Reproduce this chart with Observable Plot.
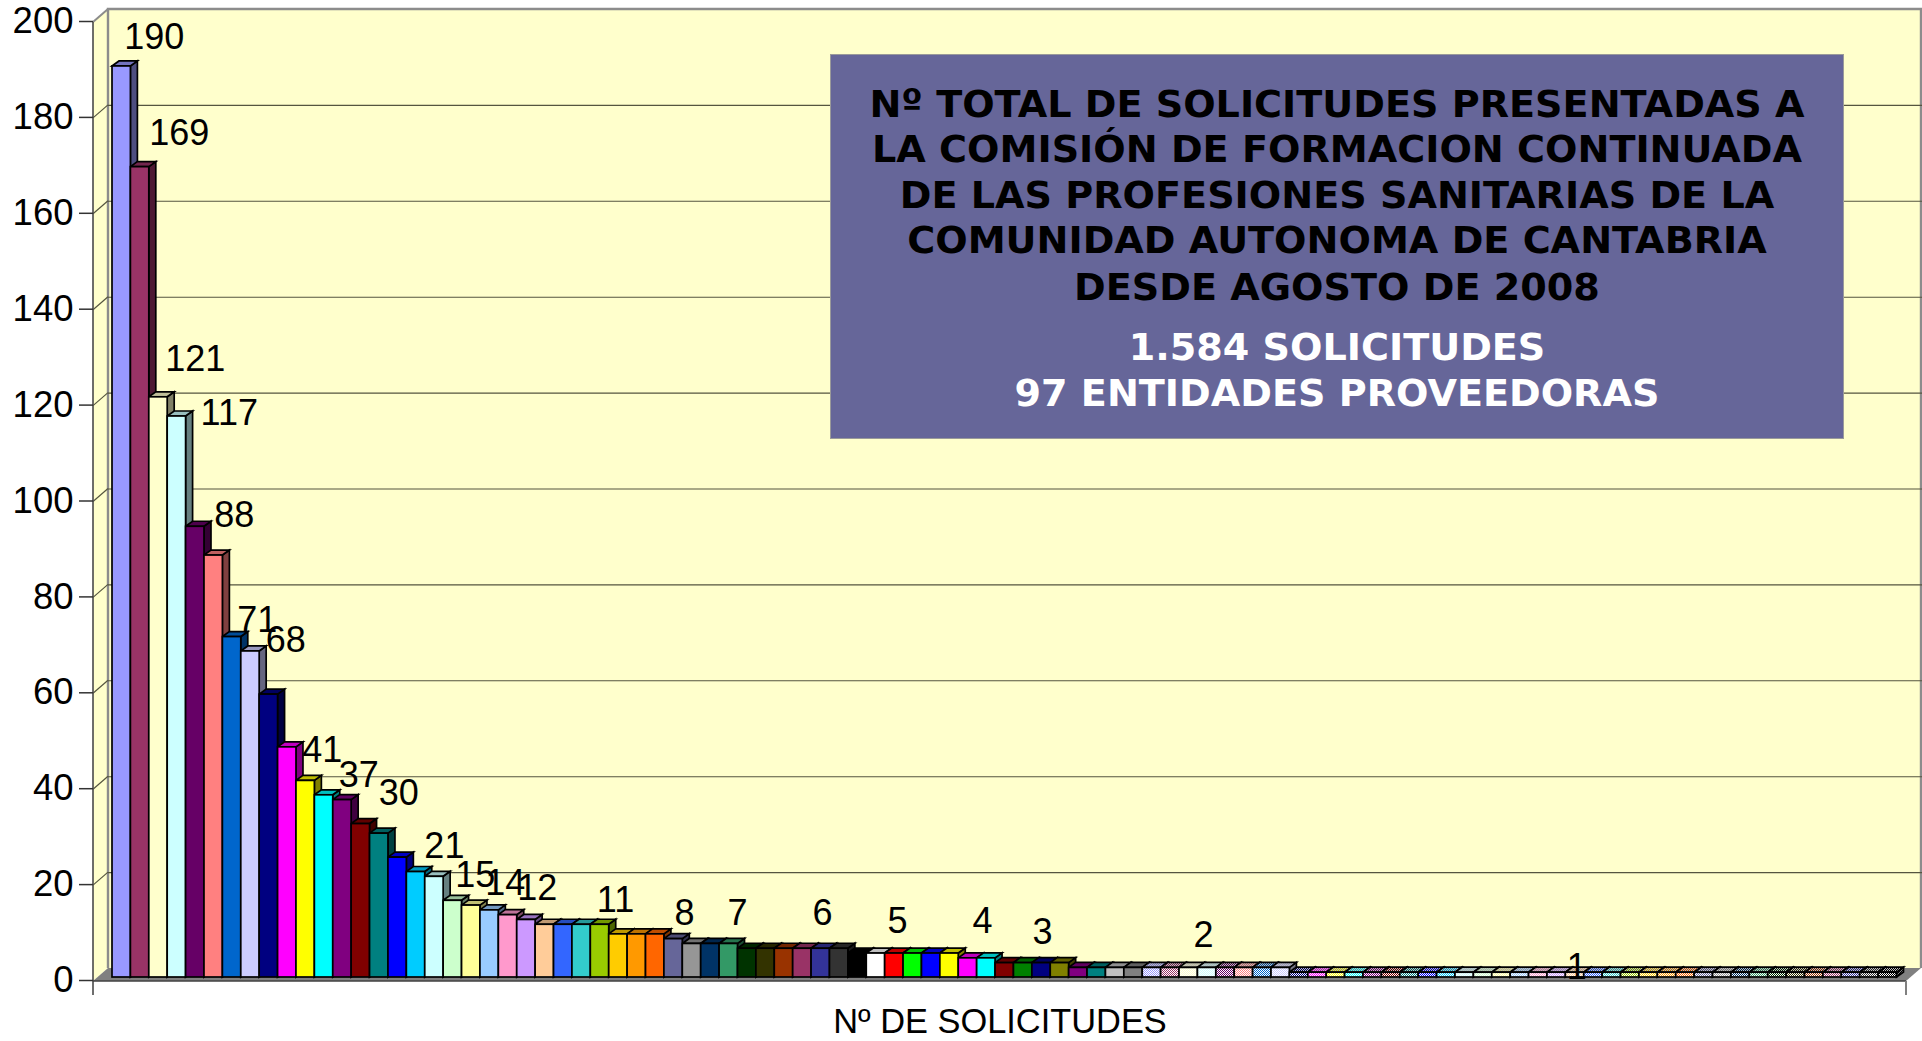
<!DOCTYPE html>
<html lang="es">
<head>
<meta charset="utf-8">
<title>Solicitudes</title>
<script src="https://cdn.jsdelivr.net/npm/d3@7"></script>
<script src="https://cdn.jsdelivr.net/npm/@observablehq/plot@0.6"></script>
<style>
  html, body { margin: 0; padding: 0; background: #fff; overflow: hidden; }
  #chart { position: relative; width: 1922px; height: 1041px; }
  #chart svg { display: block; }
  #box {
    position: absolute; left: 830px; top: 54px; width: 1012px; height: 383px;
    background: #666699; border: 1px solid #9a9a9a; box-sizing: content-box;
    font: bold 38.15px "DejaVu Sans", sans-serif; text-align: center; color: #000;
  }
  #box div { position: absolute; left: 0; right: 0; line-height: 46px; white-space: nowrap; }
  #box .w { color: #fff; }
</style>
</head>
<body>
<div id="chart"></div>
<script>
// ---- data ----
const values = [190,169,121,117,94,88,71,68,59,48,41,38,37,32,30,25,22,21,16,15,14,13,12,11,11,11,11,9,9,9,8,7,7,7,6,6,6,6,6,6,5,5,5,5,5,5,4,4,3,3,3,3,2,2,2,2,2,2,2,2,2,2,2,2,1,1,1,1,1,1,1,1,1,1,1,1,1,1,1,1,1,1,1,1,1,1,1,1,1,1,1,1,1,1,1,1,1];
const solidPalette = ["#9999FF","#993366","#FFFFCC","#CCFFFF","#660066","#FF8080","#0066CC","#CCCCFF","#000080","#FF00FF","#FFFF00","#00FFFF","#800080","#800000","#008080","#0000FF","#00CCFF","#CCFFFF","#CCFFCC","#FFFF99","#99CCFF","#FF99CC","#CC99FF","#FFCC99","#3366FF","#33CCCC","#99CC00","#FFCC00","#FF9900","#FF6600","#666699","#969696","#003366","#339966","#003300","#333300","#993300","#993366","#333399","#333333","#000000","#FFFFFF","#FF0000","#00FF00","#0000FF","#FFFF00","#FF00FF","#00FFFF","#800000","#008000","#000080","#808000","#800080","#008080","#C0C0C0","#808080"];
const yTicks = [0,20,40,60,80,100,120,140,160,180,200];
const labelTexts = ["190","169","121","117","88","71","68","41","37","30","21","15","14","12","11","8","7","6","5","4","3","2","1"];
const titleLines = ["Nº TOTAL DE SOLICITUDES PRESENTADAS A","LA COMISIÓN DE FORMACION CONTINUADA","DE LAS PROFESIONES SANITARIAS DE LA","COMUNIDAD AUTONOMA DE CANTABRIA","DESDE AGOSTO DE 2008"];
const totalLines = ["1.584 SOLICITUDES","97 ENTIDADES PROVEEDORAS"];
const xAxisTitle = "Nº DE SOLICITUDES";

// ---- layout and derived tables ----
const W = 1922, H = 1041;
const barDX = 7, barDY = -5;           // depth of one bar
const wallDY = -9;                     // back wall relative to bars' plane
const frontDX = -19, frontDY = 4;      // front plane relative to bars' plane
const FONT = '"Liberation Sans", Arial, sans-serif';

const rows = values.map((value, i) => ({
  value, start: i, end: i + 1,
  color: solidPalette[i < solidPalette.length ? i : i - solidPalette.length],
  patterned: i >= solidPalette.length, i
}));
const shade = (c, k) => { const r = d3.rgb(c); return d3.rgb(r.r * k, r.g * k, r.b * k).formatHex(); };
const paint = (d, k) => d.patterned ? `url(#p${d.i}-${Math.round(k * 100)})` : shade(d.color, k);

// label placement, in the units of the two scales
const labelPlaces = [[2.27,196],[3.63,176],[4.5,128.9],[6.35,117.6],[6.62,96.3],[7.87,74.4],[9.42,70.3],[11.4,47.3],[13.39,42.1],[15.56,38.4],[18.04,27.3],[19.72,21.3],[21.35,19.6],[23.09,18.6],[27.34,16.1],[31.09,13.3],[33.97,13.3],[38.59,13.3],[42.67,11.7],[47.29,11.7],[50.55,9.4],[59.31,8.8],[79.59,2.1]];
const labels = labelTexts.map((t, i) => ({ t, x: labelPlaces[i][0], y: labelPlaces[i][1] }));

const svgEl = (name) => document.createElementNS("http://www.w3.org/2000/svg", name);
function addPath(g, d, fill, stroke, sw) {
  const p = svgEl("path");
  p.setAttribute("d", d);
  p.setAttribute("fill", fill);
  p.setAttribute("stroke", stroke);
  p.setAttribute("stroke-width", sw);
  p.setAttribute("stroke-linejoin", "miter");
  g.appendChild(p);
}

// chequered fills for the bars past the first palette cycle
function patternDefs() {
  const defs = svgEl("defs");
  for (const d of rows.filter(r => r.patterned)) for (const k of [1, 0.75, 0.5]) {
    const p = svgEl("pattern");
    p.setAttribute("id", `p${d.i}-${Math.round(k * 100)}`);
    p.setAttribute("patternUnits", "userSpaceOnUse");
    p.setAttribute("width", 2); p.setAttribute("height", 2);
    const bg = svgEl("rect");
    bg.setAttribute("width", 2); bg.setAttribute("height", 2);
    bg.setAttribute("fill", shade("#ffffff", k));
    p.appendChild(bg);
    for (const [x, y] of [[0,0],[1,1]]) {
      const c = svgEl("rect");
      c.setAttribute("x", x); c.setAttribute("y", y);
      c.setAttribute("width", 1); c.setAttribute("height", 1);
      c.setAttribute("fill", shade(d.color, k));
      p.appendChild(c);
    }
    defs.appendChild(p);
  }
  return defs;
}

// walls and floor of the 3-D box, anchored on the scales
function walls(index, { x, y }) {
  const g = svgEl("g");
  const L = x(0), R = x(97), B = y(0), T = y(200);
  const fl = L + frontDX, fr = R + 9.5, fb = B + frontDY, ft = T + frontDY;
  const bl = fl + 15, br = fr + 15, bb = B + wallDY, bt = T + wallDY;
  addPath(g, `M${bl},${bt}H${br}V${bb}H${bl}Z`, "#FFFFCC", "none", 0);
  addPath(g, `M${fl},${ft}L${bl},${bt}V${bb}L${fl},${fb}Z`, "#FFFFCC", "none", 0);
  addPath(g, `M${fl},${fb}L${bl},${bb}H${br}L${fr},${fb}Z`, "#808080", "none", 0);
  addPath(g, `M${bl},${bb}V${bt}H${br}V${bb}`, "none", "#8c8c8c", 2.4);
  addPath(g, `M${fl},${ft}L${bl},${bt}`, "none", "#8c8c8c", 2);
  return g;
}
function wallDiagonals(index, { y, x }) {
  const g = svgEl("g");
  const fl = x(0) + frontDX;
  for (const t of yTicks.slice(1, -1)) {
    addPath(g, `M${fl},${y(t) + frontDY}L${fl + 15},${y(t) + wallDY}`, "none", "#55553f", 1.2);
  }
  return g;
}
function frontFrame(index, { x, y }) {
  const g = svgEl("g");
  const fl = x(0) + frontDX, fr = x(97) + 9.5, fb = y(0) + frontDY;
  addPath(g, `M${fl},${y(200) + frontDY}V${fb + 14}`, "none", "#4a4a4a", 1.6);
  addPath(g, `M${fl},${fb}H${fr}`, "none", "#404040", 1.6);
  addPath(g, `M${fr},${fb}V${fb + 14}`, "none", "#808080", 2);
  return g;
}
// side and top faces share the x/y scales with the front faces
const sideFaces = (index, { x, y }) => {
  const g = svgEl("g");
  for (const i of index) {
    const d = rows[i], X = x(d.end), T = y(d.value), B = y(0);
    addPath(g, `M${X},${T}L${X + barDX},${T + barDY}V${B + barDY}L${X},${B}Z`, paint(d, 0.5), "#000", 1.7);
  }
  return g;
};
const topFaces = (index, { x, y }) => {
  const g = svgEl("g");
  for (const i of index) {
    const d = rows[i], A = x(d.start), E = x(d.end), T = y(d.value);
    addPath(g, `M${A},${T}L${A + barDX},${T + barDY}H${E + barDX}L${E},${T}Z`, paint(d, 0.75), "#000", 1.7);
  }
  return g;
};

const chart = Plot.plot({
  width: W, height: H,
  marginLeft: 93, marginRight: 0, marginTop: 0, marginBottom: 0,
  style: { fontFamily: FONT, background: "#fff", color: "#000" },
  x: { domain: [0, 97], range: [112, 1896.5], axis: null },
  y: { domain: [0, 200], range: [977, 18], axis: null },
  marks: [
    () => patternDefs(),
    walls,
    Plot.ruleY(yTicks.slice(1, -1), { insetLeft: 15, dy: wallDY, stroke: "#55553f", strokeWidth: 1.1 }),
    wallDiagonals,
    Plot.rect(rows, { x1: "start", x2: "end", y1: 0, y2: "value", render: sideFaces }),
    Plot.rect(rows, { x1: "start", x2: "end", y1: 0, y2: "value", render: topFaces }),
    Plot.rect(rows, { x1: "start", x2: "end", y1: 0, y2: "value",
      fill: { value: d => paint(d, 1), scale: null }, stroke: "#000", strokeWidth: 1.7 }),
    frontFrame,
    Plot.axisY({ anchor: "left", ticks: yTicks, tickFormat: d => String(d), label: null, tickSize: 14, tickPadding: 6,
      dy: 3, fontSize: 36.5, stroke: "#333", strokeWidth: 1.5 }),
    Plot.text(labels, { x: "x", y: "y", text: "t", fontSize: 36, fill: "#000", textAnchor: "middle", lineAnchor: "middle" }),
    Plot.text([xAxisTitle], { frameAnchor: "bottom", dy: -20, dx: -8, fontSize: 34.4, fill: "#000", lineAnchor: "middle" })
  ]
});
const host = document.getElementById("chart");
host.appendChild(chart);

const box = document.createElement("div");
box.id = "box";
const tops = [26, 71, 117, 162, 209];
titleLines.forEach((t, i) => {
  const el = document.createElement("div");
  el.textContent = t; el.style.top = tops[i] + "px";
  box.appendChild(el);
});
[269, 315].forEach((top, i) => {
  const el = document.createElement("div");
  el.className = "w"; el.textContent = totalLines[i]; el.style.top = top + "px";
  box.appendChild(el);
});
host.appendChild(box);
</script>
</body>
</html>
